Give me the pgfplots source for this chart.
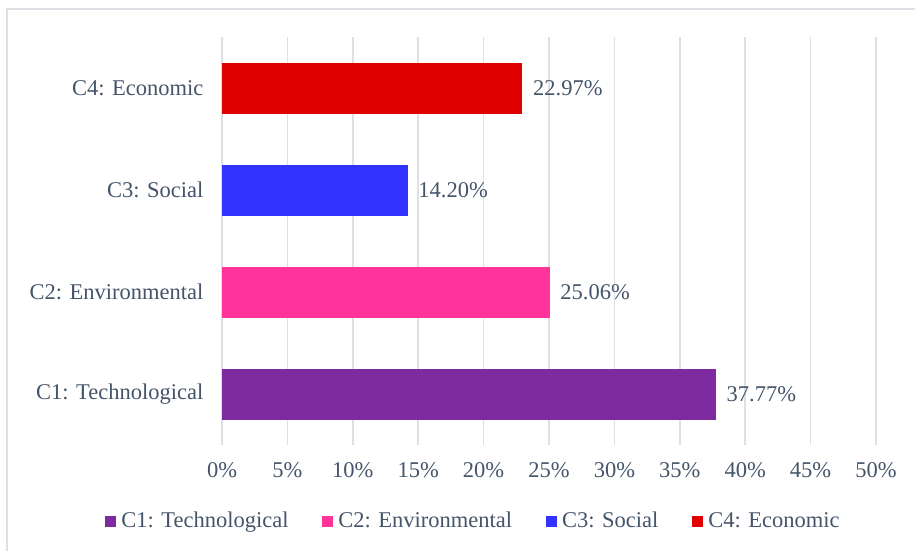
\documentclass[border=0pt]{standalone}
\usepackage{pgfplots}
\pgfplotsset{compat=1.18}
\usepackage{fontspec}
\setmainfont{Liberation Serif}
\definecolor{txt}{HTML}{44546A}
\definecolor{gridc}{HTML}{DDE1E6}
\definecolor{cA}{HTML}{7F2BA0}
\definecolor{cB}{HTML}{FF3399}
\definecolor{cC}{HTML}{3333FF}
\definecolor{cD}{HTML}{E00000}
\begin{document}
\fontsize{22.5}{27}\selectfont
\begin{tikzpicture}
\draw[gridc, line width=2pt] (7pt,-9pt) rectangle (940pt,-580pt);
\begin{axis}[
  at={(222pt,-445pt)}, anchor=south west,
  scale only axis, width=654pt, height=408pt,
  xmin=0, xmax=50, ymin=-0.5, ymax=3.5,
  xtick={0,5,...,50},
  xticklabel={\pgfmathprintnumber{\tick}\%},
  /pgf/number format/assume math mode=true,
  ytick={0,1,2,3},
  yticklabels={C1: Technological, C2: Environmental, C3: Social, C4: Economic},
  xmajorgrids, major grid style={gridc, line width=1.5pt},
  axis line style={draw=none},
  major tick length=0pt,
  tick label style={font=\fontsize{22.5}{27}\selectfont, text=txt},
  xticklabel style={yshift=-10pt},
  yticklabel style={xshift=-11pt},
  xbar, bar width=0.5, bar shift=0pt,
  point meta=x,
  nodes near coords={\pgfmathprintnumber[fixed,zerofill,precision=2]{\pgfplotspointmeta}\%},
  nodes near coords style={font=\fontsize{22.5}{27}\selectfont, text=txt, anchor=west, xshift=3pt},
  legend columns=4,
  legend style={draw=none, fill=none, at={(0.3846,-0.1875)}, anchor=center,
    font=\fontsize{22.5}{27}\selectfont, text=txt,
    /tikz/every odd column/.append style={column sep=3pt},
    /tikz/every even column/.append style={column sep=32pt}},
  legend image code/.code={\fill[#1] (0pt,-5.5pt) rectangle (11pt,5.5pt);},
]
\addplot[fill=cA, draw=none] coordinates {(37.77,0)};
\addplot[fill=cB, draw=none] coordinates {(25.06,1)};
\addplot[fill=cC, draw=none] coordinates {(14.20,2)};
\addplot[fill=cD, draw=none] coordinates {(22.97,3)};
\legend{C1: Technological, C2: Environmental, C3: Social, C4: Economic}
\end{axis}
\pgfresetboundingbox
\path[use as bounding box] (0pt,0pt) rectangle (915pt,-550pt);
\end{tikzpicture}
\end{document}
